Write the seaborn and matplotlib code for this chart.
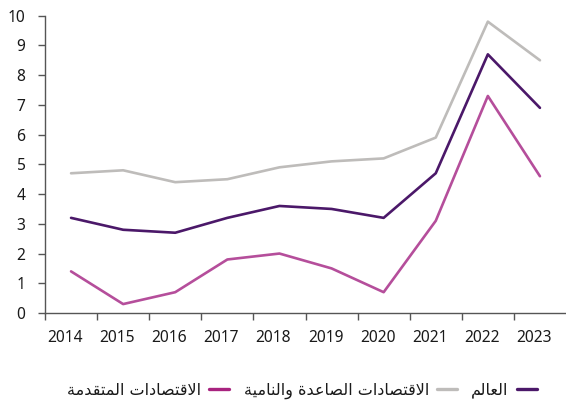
import matplotlib
matplotlib.use("Agg")
import matplotlib.pyplot as plt
import matplotlib.transforms as mtransforms
from matplotlib.lines import Line2D
import seaborn as sns
import pandas as pd

# ---------------- data ----------------
years = [2014, 2015, 2016, 2017, 2018, 2019, 2020, 2021, 2022, 2023]
world = [3.2, 2.8, 2.7, 3.2, 3.6, 3.5, 3.2, 4.7, 8.7, 6.9]
emerging = [4.7, 4.8, 4.4, 4.5, 4.9, 5.1, 5.2, 5.9, 9.8, 8.5]
advanced = [1.4, 0.3, 0.7, 1.8, 2.0, 1.5, 0.7, 3.1, 7.3, 4.6]
label_world = "العالم"
label_emerging = "الاقتصادات الصاعدة والنامية"
label_advanced = "الاقتصادات المتقدمة"
y_ticks = [0, 1, 2, 3, 4, 5, 6, 7, 8, 9, 10]

# ---------------- minimal Arabic shaping (matplotlib has no shaping) ----------------
FORMS = {  # isolated, final, initial, medial
    "\u0627": ("\uFE8D", "\uFE8E", None, None),
    "\u0644": ("\uFEDD", "\uFEDE", "\uFEDF", "\uFEE0"),
    "\u0639": ("\uFEC9", "\uFECA", "\uFECB", "\uFECC"),
    "\u0645": ("\uFEE1", "\uFEE2", "\uFEE3", "\uFEE4"),
    "\u0642": ("\uFED5", "\uFED6", "\uFED7", "\uFED8"),
    "\u062A": ("\uFE95", "\uFE96", "\uFE97", "\uFE98"),
    "\u0635": ("\uFEB9", "\uFEBA", "\uFEBB", "\uFEBC"),
    "\u062F": ("\uFEA9", "\uFEAA", None, None),
    "\u0629": ("\uFE93", "\uFE94", None, None),
    "\u0648": ("\uFEED", "\uFEEE", None, None),
    "\u0646": ("\uFEE5", "\uFEE6", "\uFEE7", "\uFEE8"),
    "\u064A": ("\uFEF1", "\uFEF2", "\uFEF3", "\uFEF4"),
}


def dual(c):
    return c in FORMS and FORMS[c][2] is not None


def shape(text):
    out = []
    chars = list(text)
    i = 0
    n = len(chars)
    while i < n:
        c = chars[i]
        if c not in FORMS:
            out.append(c)
            i += 1
            continue
        prev = chars[i - 1] if i > 0 else None
        joins_prev = prev is not None and dual(prev)
        if c == "\u0644" and i + 1 < n and chars[i + 1] == "\u0627":
            out.append("\uFEFC" if joins_prev else "\uFEFB")
            i += 2
            continue
        nxt = chars[i + 1] if i + 1 < n else None
        joins_next = dual(c) and nxt is not None and nxt in FORMS
        iso, fin, ini, med = FORMS[c]
        if joins_prev and joins_next:
            out.append(med)
        elif joins_prev:
            out.append(fin)
        elif joins_next:
            out.append(ini)
        else:
            out.append(iso)
        i += 1
    return "".join(out)[::-1]


# ---------------- figure ----------------
sns.set_theme(style="white")
plt.rcParams["font.family"] = ["Noto Sans", "DejaVu Sans"]

c_world = "#4B1869"
c_emerging = "#BEBCBA"
c_advanced = "#B54E9B"
c_advanced_leg = "#A8237F"

df = pd.DataFrame({
    "year": years * 3,
    "value": world + emerging + advanced,
    "series": ["world"] * len(years) + ["emerging"] * len(years) + ["advanced"] * len(years),
})

fig = plt.figure(figsize=(5.66, 4.07), dpi=100)
ax = fig.add_axes([45 / 566, 1 - 313 / 407, 1 - 45 / 566, (313 - 15.7) / 407])

sns.lineplot(data=df, x="year", y="value", hue="series",
             hue_order=["emerging", "world", "advanced"],
             palette={"world": c_world, "emerging": c_emerging, "advanced": c_advanced},
             linewidth=1.9, legend=False, ax=ax)

ax.set_xlim(years[0] - 0.5, years[-1] + 0.5)
ax.set_ylim(0, 10)
ax.set_xlabel("")
ax.set_ylabel("")

# x: tick marks on category boundaries, labels at category centres
ax.set_xticks([y - 0.5 for y in years])
ax.set_xticklabels([])
ax.set_xticks(years, minor=True)
ax.set_xticklabels([str(y) for y in years], minor=True)
ax.tick_params(axis="x", which="major", direction="out", length=5, width=1, color="#555555", bottom=True)
ax.tick_params(axis="x", which="minor", length=0, pad=12, labelsize=11.2, labelcolor="#1a1a1a")
offset = mtransforms.ScaledTranslation(-6 / 100, 0, fig.dpi_scale_trans)
for lab in ax.xaxis.get_minorticklabels():
    lab.set_transform(lab.get_transform() + offset)

ax.set_yticks(y_ticks)
ax.set_yticklabels([str(v) for v in y_ticks])
ax.tick_params(axis="y", direction="out", length=5, width=1, color="#555555", left=True,
               pad=9, labelsize=11.2, labelcolor="#1a1a1a")

for s in ["top", "right"]:
    ax.spines[s].set_visible(False)
for s in ["left", "bottom"]:
    ax.spines[s].set_color("#555555")
    ax.spines[s].set_linewidth(1)
ax.grid(False)

handles = [
    Line2D([], [], color=c_advanced_leg, linewidth=2.4),
    Line2D([], [], color=c_emerging, linewidth=2.4),
    Line2D([], [], color=c_world, linewidth=2.4),
]
labels = [shape(label_advanced), shape(label_emerging), shape(label_world)]
leg = fig.legend(handles, labels, ncol=3, markerfirst=False, frameon=False,
                 loc="center", bbox_to_anchor=(302 / 566, 1 - 391 / 407),
                 prop={"family": ["DejaVu Sans"], "size": 11.5},
                 handlelength=1.25, handletextpad=0.5, columnspacing=0.9)
for t in leg.get_texts():
    t.set_color("#1a1a1a")

fig.savefig("out.png", dpi=100)
